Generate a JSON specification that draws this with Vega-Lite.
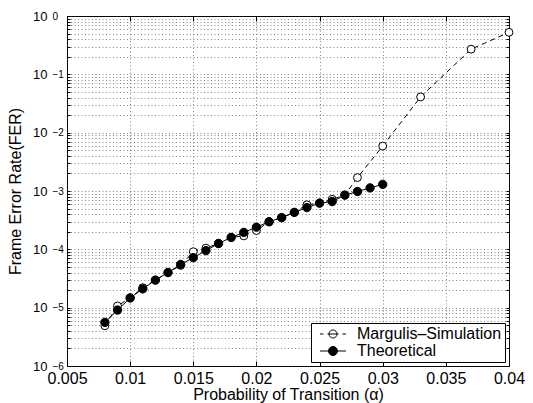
{
  "$schema": "https://vega.github.io/schema/vega-lite/v6.json",
  "width": 442,
  "height": 350,
  "autosize": {"type": "none"},
  "padding": {"left": 67, "top": 16, "right": 24, "bottom": 37},
  "config": {
    "font": "Liberation Sans",
    "view": {"stroke": "black", "strokeWidth": 1},
    "axis": {"labelFont": "Liberation Sans", "titleFont": "Liberation Sans", "labelFontSize": 16, "titleFontSize": 16, "titleFontWeight": "normal", "labelColor": "black", "titleColor": "black", "domainColor": "black", "tickColor": "black", "gridColor": "#333333", "gridDash": [1, 2.5], "gridWidth": 0.6, "domain": false}
  },
  "data": {
    "values": [
      {"series": "Margulis–Simulation", "alpha": 0.008, "fer": 4.9e-6},
      {"series": "Margulis–Simulation", "alpha": 0.009, "fer": 1.07e-5},
      {"series": "Margulis–Simulation", "alpha": 0.010, "fer": 1.47e-5},
      {"series": "Margulis–Simulation", "alpha": 0.011, "fer": 2.2e-5},
      {"series": "Margulis–Simulation", "alpha": 0.012, "fer": 2.97e-5},
      {"series": "Margulis–Simulation", "alpha": 0.013, "fer": 4.0e-5},
      {"series": "Margulis–Simulation", "alpha": 0.014, "fer": 5.3e-5},
      {"series": "Margulis–Simulation", "alpha": 0.015, "fer": 9.1e-5},
      {"series": "Margulis–Simulation", "alpha": 0.016, "fer": 1.05e-4},
      {"series": "Margulis–Simulation", "alpha": 0.017, "fer": 1.26e-4},
      {"series": "Margulis–Simulation", "alpha": 0.018, "fer": 1.6e-4},
      {"series": "Margulis–Simulation", "alpha": 0.019, "fer": 1.7e-4},
      {"series": "Margulis–Simulation", "alpha": 0.020, "fer": 2.1e-4},
      {"series": "Margulis–Simulation", "alpha": 0.021, "fer": 2.97e-4},
      {"series": "Margulis–Simulation", "alpha": 0.022, "fer": 3.5e-4},
      {"series": "Margulis–Simulation", "alpha": 0.023, "fer": 4.3e-4},
      {"series": "Margulis–Simulation", "alpha": 0.024, "fer": 5.8e-4},
      {"series": "Margulis–Simulation", "alpha": 0.025, "fer": 6.2e-4},
      {"series": "Margulis–Simulation", "alpha": 0.026, "fer": 7.2e-4},
      {"series": "Margulis–Simulation", "alpha": 0.027, "fer": 8.5e-4},
      {"series": "Margulis–Simulation", "alpha": 0.028, "fer": 1.7e-3},
      {"series": "Margulis–Simulation", "alpha": 0.030, "fer": 5.9e-3},
      {"series": "Margulis–Simulation", "alpha": 0.033, "fer": 0.041},
      {"series": "Margulis–Simulation", "alpha": 0.037, "fer": 0.27},
      {"series": "Margulis–Simulation", "alpha": 0.040, "fer": 0.525},
      {"series": "Theoretical", "alpha": 0.008, "fer": 5.6e-6},
      {"series": "Theoretical", "alpha": 0.009, "fer": 9.1e-6},
      {"series": "Theoretical", "alpha": 0.010, "fer": 1.47e-5},
      {"series": "Theoretical", "alpha": 0.011, "fer": 2.1e-5},
      {"series": "Theoretical", "alpha": 0.012, "fer": 2.97e-5},
      {"series": "Theoretical", "alpha": 0.013, "fer": 4.0e-5},
      {"series": "Theoretical", "alpha": 0.014, "fer": 5.5e-5},
      {"series": "Theoretical", "alpha": 0.015, "fer": 7.2e-5},
      {"series": "Theoretical", "alpha": 0.016, "fer": 9.5e-5},
      {"series": "Theoretical", "alpha": 0.017, "fer": 1.26e-4},
      {"series": "Theoretical", "alpha": 0.018, "fer": 1.6e-4},
      {"series": "Theoretical", "alpha": 0.019, "fer": 1.95e-4},
      {"series": "Theoretical", "alpha": 0.020, "fer": 2.4e-4},
      {"series": "Theoretical", "alpha": 0.021, "fer": 2.97e-4},
      {"series": "Theoretical", "alpha": 0.022, "fer": 3.5e-4},
      {"series": "Theoretical", "alpha": 0.023, "fer": 4.3e-4},
      {"series": "Theoretical", "alpha": 0.024, "fer": 5.2e-4},
      {"series": "Theoretical", "alpha": 0.025, "fer": 6.2e-4},
      {"series": "Theoretical", "alpha": 0.026, "fer": 6.6e-4},
      {"series": "Theoretical", "alpha": 0.027, "fer": 8.5e-4},
      {"series": "Theoretical", "alpha": 0.028, "fer": 9.8e-4},
      {"series": "Theoretical", "alpha": 0.029, "fer": 1.13e-3},
      {"series": "Theoretical", "alpha": 0.030, "fer": 1.3e-3}
    ]
  },
  "resolve": {"axis": {"x": "independent", "y": "independent"}},
  "layer": [
    {
      "mark": {"type": "line", "color": "black", "strokeWidth": 1, "strokeDash": [5, 4]},
      "transform": [{"filter": "datum.series === 'Margulis–Simulation'"}],
      "encoding": {
        "x": {"field": "alpha", "type": "quantitative", "scale": {"domain": [0.005, 0.04], "nice": false, "zero": false},
          "axis": {"orient": "bottom", "title": "Probability of Transition (α)", "titlePadding": 0, "values": [0.005, 0.01, 0.015, 0.02, 0.025, 0.03, 0.035, 0.04], "format": "~g", "tickSize": -5, "labelPadding": 9, "grid": true, "labelFlush": false}},
        "y": {"field": "fer", "type": "quantitative", "scale": {"type": "log", "domain": [1e-6, 1], "nice": false},
          "axis": {"orient": "left", "title": "Frame Error Rate(FER)", "titlePadding": 9, "labelFontSize": 13,
            "values": [1e-6, 2e-6, 3e-6, 4e-6, 5e-6, 6e-6, 7e-6, 8e-6, 9e-6, 1e-5, 2e-5, 3e-5, 4e-5, 5e-5, 6e-5, 7e-5, 8e-5, 9e-5, 1e-4, 2e-4, 3e-4, 4e-4, 5e-4, 6e-4, 7e-4, 8e-4, 9e-4, 1e-3, 2e-3, 3e-3, 4e-3, 5e-3, 6e-3, 7e-3, 8e-3, 9e-3, 0.01, 0.02, 0.03, 0.04, 0.05, 0.06, 0.07, 0.08, 0.09, 0.1, 0.2, 0.3, 0.4, 0.5, 0.6, 0.7, 0.8, 0.9, 1],
            "labelExpr": "datum.value === 1 || datum.value === 0.1 || datum.value === 0.01 || datum.value === 0.001 || datum.value === 0.0001 || datum.value === 0.00001 || datum.value === 0.000001 ? '10' : ''",
            "tickSize": -3, "labelPadding": 23, "labelDy": -2, "grid": true, "labelFlush": false}}
      }
    },
    {
      "mark": {"type": "line", "color": "black", "strokeWidth": 1},
      "transform": [{"filter": "datum.series === 'Theoretical'"}],
      "encoding": {
        "x": {"field": "alpha", "type": "quantitative", "axis": {"orient": "top", "title": null, "labels": false, "values": [0.005, 0.01, 0.015, 0.02, 0.025, 0.03, 0.035, 0.04], "tickSize": -5, "grid": false}},
        "y": {"field": "fer", "type": "quantitative", "axis": {"orient": "right", "title": null, "labels": false, "tickSize": -3, "grid": false,
            "values": [1e-6, 2e-6, 3e-6, 4e-6, 5e-6, 6e-6, 7e-6, 8e-6, 9e-6, 1e-5, 2e-5, 3e-5, 4e-5, 5e-5, 6e-5, 7e-5, 8e-5, 9e-5, 1e-4, 2e-4, 3e-4, 4e-4, 5e-4, 6e-4, 7e-4, 8e-4, 9e-4, 1e-3, 2e-3, 3e-3, 4e-3, 5e-3, 6e-3, 7e-3, 8e-3, 9e-3, 0.01, 0.02, 0.03, 0.04, 0.05, 0.06, 0.07, 0.08, 0.09, 0.1, 0.2, 0.3, 0.4, 0.5, 0.6, 0.7, 0.8, 0.9, 1]}}
      }
    },
    {
      "mark": {"type": "point", "filled": true, "fill": "white", "stroke": "black", "strokeWidth": 1, "size": 62, "opacity": 1},
      "transform": [{"filter": "datum.series === 'Margulis–Simulation'"}],
      "encoding": {
        "x": {"field": "alpha", "type": "quantitative", "axis": null},
        "y": {"field": "fer", "type": "quantitative", "axis": {"orient": "left", "title": null, "grid": false, "ticks": false, "tickSize": 0, "labelFontSize": 10, "labelAlign": "left", "labelPadding": 15, "labelDy": -7, "labelFlush": false,
            "values": [1e-6, 1e-5, 1e-4, 1e-3, 0.01, 0.1, 1],
            "labelExpr": "datum.value === 1 ? '0' : datum.value === 0.1 ? '−1' : datum.value === 0.01 ? '−2' : datum.value === 0.001 ? '−3' : datum.value === 0.0001 ? '−4' : datum.value === 0.00001 ? '−5' : '−6'"}}
      }
    },
    {
      "mark": {"type": "point", "filled": true, "fill": "black", "stroke": "black", "strokeWidth": 1, "size": 70, "opacity": 1},
      "transform": [{"filter": "datum.series === 'Theoretical'"}],
      "encoding": {
        "x": {"field": "alpha", "type": "quantitative", "axis": null},
        "y": {"field": "fer", "type": "quantitative", "axis": null}
      }
    },
    {
      "mark": {"type": "point", "filled": true, "stroke": "black", "strokeWidth": 1, "opacity": 1},
      "transform": [{"filter": "false"}],
      "encoding": {
        "x": {"field": "alpha", "type": "quantitative", "axis": null},
        "y": {"field": "fer", "type": "quantitative", "axis": null},
        "fill": {"field": "series", "type": "nominal", "scale": {"domain": ["Margulis–Simulation", "Theoretical"], "range": ["white", "black"]}, "legend": {"title": null, "orient": "bottom-right", "offset": 4, "labelFontSize": 16, "labelFont": "Liberation Sans", "labelColor": "black", "strokeColor": "black", "fillColor": "white", "padding": 3, "rowPadding": 1, "symbolSize": 100, "symbolStrokeWidth": 1, "symbolStrokeColor": "black", "symbolOffset": 11, "labelOffset": 16}},
        "shape": {"field": "series", "type": "nominal", "scale": {"domain": ["Margulis–Simulation", "Theoretical"], "range": ["M-2.6,0 L-1.9,0 M-1.1,0 L1.1,0 M1.9,0 L2.6,0 M0.8,0 A0.8,0.8 0 1,1 -0.8,0 A0.8,0.8 0 1,1 0.8,0 Z", "M-2.6,0 L2.6,0 M0.9,0 A0.9,0.9 0 1,1 -0.9,0 A0.9,0.9 0 1,1 0.9,0 Z"]}, "legend": {"title": null}}
      }
    }
  ]
}
